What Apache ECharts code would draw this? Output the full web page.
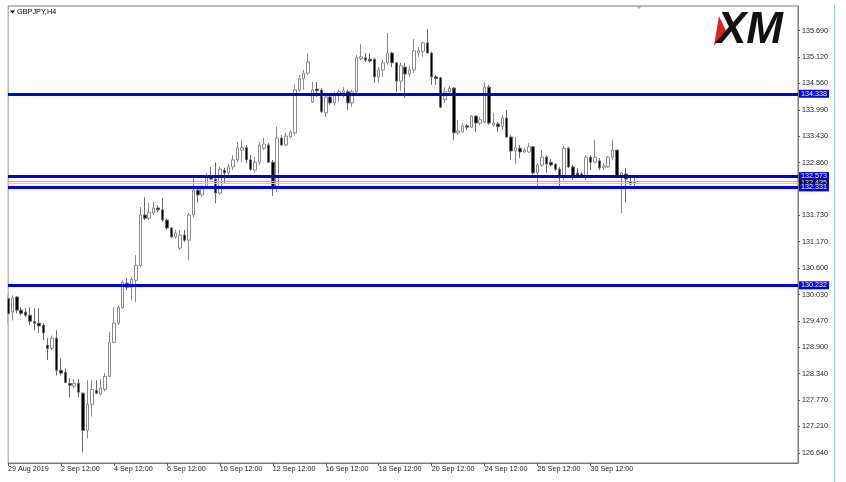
<!DOCTYPE html>
<html><head><meta charset="utf-8">
<script src="https://cdn.jsdelivr.net/npm/echarts/dist/echarts.min.js"></script>
<style>html,body{margin:0;padding:0;background:#fff}#c{width:846px;height:482px}</style>
</head><body><div id="c"></div>
<script>
// ---- data ----
const symbolTitle = 'GBPJPY,H4';
const tradingDays = ['29 Aug','30 Aug','2 Sep','3 Sep','4 Sep','5 Sep','6 Sep','9 Sep','10 Sep','11 Sep','12 Sep','13 Sep','16 Sep','17 Sep','18 Sep','19 Sep','20 Sep','23 Sep','24 Sep','25 Sep','26 Sep','27 Sep','30 Sep','1 Oct','2 Oct'];
const hours = ['00:00','04:00','08:00','12:00','16:00','20:00'];
const xTickLabels = ['29 Aug 2019','2 Sep 12:00','4 Sep 12:00','6 Sep 12:00','10 Sep 12:00','12 Sep 12:00','16 Sep 12:00','18 Sep 12:00','20 Sep 12:00','24 Sep 12:00','26 Sep 12:00','30 Sep 12:00'];
const yTickValues = [126.64,127.21,127.77,128.34,128.90,129.47,130.03,130.60,131.17,131.73,132.86,133.43,133.99,134.56,135.12,135.69];
const levelLines = [134.338, 132.573, 132.331, 130.232];
const askLine = 132.468;
const bidLine = 132.425;

const opens = [129.95,129.66,129.98,129.70,129.66,129.59,129.46,129.42,129.38,128.95,
128.88,129.10,128.41,128.37,128.13,128.07,128.13,127.92,127.12,127.68,
127.98,127.90,128.00,128.28,129.01,129.42,129.75,130.28,130.19,130.34,
130.66,131.74,131.67,131.78,131.89,131.85,131.63,131.46,131.27,131.03,
131.31,131.20,131.74,132.27,132.17,132.34,132.55,132.51,132.21,132.70,
132.64,132.77,132.92,133.13,133.18,132.92,132.70,132.87,133.17,133.24,
132.87,132.34,133.39,133.24,133.41,133.50,134.42,134.66,134.78,134.16,
134.44,134.42,133.93,134.27,134.14,134.33,134.36,134.38,134.14,134.38,
135.09,135.11,135.08,135.08,134.70,134.85,135.00,135.21,135.00,134.61,
134.91,134.76,134.85,135.21,135.24,135.43,135.21,134.70,134.68,134.21,
134.38,134.46,133.50,133.52,133.65,133.62,133.86,133.71,133.73,134.48,
133.67,133.69,133.63,133.82,133.41,133.11,133.17,133.09,133.09,133.20,
132.64,132.81,132.98,132.87,132.83,132.72,132.57,133.17,132.77,132.64,
132.62,132.57,132.98,132.87,132.90,132.75,132.77,132.98,133.13,132.57,
132.62,132.45,132.43];
const highs = [130.02,130.02,130.00,129.76,129.74,129.76,129.74,129.74,129.42,129.10,
129.16,129.27,128.67,128.45,128.24,128.22,128.22,127.94,128.20,128.20,
128.20,128.22,128.35,129.23,129.76,129.81,130.34,130.39,130.41,130.88,
131.91,132.12,132.00,132.02,131.95,132.10,131.67,131.48,131.42,131.42,
131.42,131.78,132.55,132.32,132.38,132.64,132.77,132.87,132.77,132.75,
132.83,133.02,133.30,133.35,133.24,133.02,132.98,133.30,133.39,133.28,
132.92,133.63,133.45,133.50,133.56,134.53,134.74,134.85,135.21,134.59,
134.59,134.46,134.31,134.29,134.38,134.42,134.48,134.42,134.42,135.17,
135.41,135.21,135.21,135.11,134.91,135.06,135.64,135.24,135.02,135.00,
135.00,134.94,135.51,135.34,135.45,135.73,135.24,134.74,134.70,134.48,
134.51,134.48,133.78,133.71,133.69,133.88,133.88,133.84,134.59,134.53,
133.93,133.73,133.88,133.99,133.45,133.41,133.24,133.18,133.28,133.22,
132.85,133.13,133.02,132.94,132.85,132.77,133.22,133.20,132.81,132.75,
132.66,133.02,133.02,133.35,132.96,132.85,133.00,133.35,133.13,132.66,
132.75,132.53,132.55];
const lows = [129.40,129.48,129.63,129.59,129.55,129.38,129.27,129.21,129.06,128.63,
128.84,128.30,128.30,128.13,127.83,128.03,127.83,126.65,126.95,127.42,
127.90,127.87,127.96,128.26,128.99,129.38,129.73,130.13,129.91,129.87,
130.62,131.63,131.63,131.74,131.80,131.59,131.42,131.24,131.24,130.99,
131.16,130.77,131.69,132.00,132.12,132.32,132.49,131.99,132.17,132.42,
132.55,132.70,132.87,132.87,132.85,132.68,132.64,132.81,133.13,132.85,
132.15,132.23,133.22,133.22,133.39,133.45,134.38,134.42,134.74,134.14,
134.27,133.93,133.84,134.10,134.08,134.16,134.25,133.99,134.06,134.36,
135.06,135.02,135.00,134.57,134.57,134.70,134.96,134.91,134.38,134.40,
134.25,134.70,134.78,135.13,135.13,135.21,134.53,134.53,134.03,134.14,
134.33,133.35,133.45,133.50,133.56,133.60,133.52,133.67,133.71,133.67,
133.63,133.52,133.56,133.39,132.92,132.83,132.96,133.07,133.07,132.60,
132.34,132.77,132.64,132.77,132.68,132.32,132.49,132.75,132.49,132.55,
132.55,132.49,132.70,132.85,132.70,132.70,132.75,132.92,132.53,131.78,
132.00,132.38,132.36];
const closes = [129.62,129.96,129.70,129.63,129.59,129.46,129.42,129.36,129.21,128.88,
129.10,128.41,128.35,128.15,128.09,128.13,127.94,127.12,127.68,128.00,
127.92,128.03,128.28,129.01,129.42,129.76,130.30,130.19,130.36,130.66,
131.74,131.67,131.80,131.89,131.85,131.63,131.46,131.27,131.35,131.31,
131.20,131.74,132.27,132.17,132.32,132.55,132.51,132.21,132.72,132.64,
132.77,132.92,133.18,133.18,132.92,132.72,132.87,133.24,133.26,132.87,
132.34,133.39,133.24,133.43,133.52,134.42,134.66,134.78,135.02,134.42,
134.40,133.95,134.27,134.14,134.33,134.38,134.40,134.14,134.38,135.11,
135.13,135.06,135.04,134.70,134.85,135.00,135.21,135.00,134.61,134.94,
134.76,134.85,135.26,135.26,135.43,135.21,134.70,134.66,134.05,134.38,
134.46,133.50,133.54,133.65,133.62,133.86,133.71,133.78,134.48,133.71,
133.71,133.63,133.82,133.41,133.11,133.18,133.09,133.13,133.20,132.64,
132.81,132.98,132.83,132.81,132.72,132.57,133.17,132.77,132.57,132.57,
132.57,132.98,132.87,132.98,132.75,132.79,132.98,133.13,132.57,132.64,
132.51,132.40,132.425];

// ---- build ----
const TOTAL_SLOTS = 180;
const categories = [];
tradingDays.forEach(d => hours.forEach(h => categories.push(d + ' ' + h)));
const startSlot = 3; // 29 Aug 12:00
const shown = categories.slice(startSlot, startSlot + opens.length);
while (shown.length < TOTAL_SLOTS) shown.push('');
const candleData = opens.map((o, i) => [o, closes[i], lows[i], highs[i]]);
const isLabelIdx = i => i % 12 === 0 && i / 12 < xTickLabels.length;

const FONT = 'Liberation Sans';
const priceLabel = (v, bg) => ({show: true, position: 'end', distance: 1, formatter: v.toFixed(3),
  color: '#fff', backgroundColor: bg, padding: [1, 2, 0, 2], fontFamily: FONT, fontSize: 7.2});

const chart = echarts.init(document.getElementById('c'), null, {renderer: 'canvas'});
chart.setOption({
  animation: false,
  backgroundColor: '#ffffff',
  grid: {left: 8, right: 48, top: 6, bottom: 19, show: true, borderColor: '#7a7a7a', borderWidth: 1, backgroundColor: '#ffffff'},
  xAxis: {
    type: 'category', data: shown, boundaryGap: false,
    axisLine: {lineStyle: {color: '#7a7a7a', width: 1}},
    axisTick: {show: true, length: 3, interval: (i) => isLabelIdx(i), lineStyle: {color: '#555'}},
    axisLabel: {interval: (i) => isLabelIdx(i), formatter: (v, i) => isLabelIdx(i) ? xTickLabels[i / 12] : '',
      align: 'left', margin: 3, fontFamily: FONT, fontSize: 7.2, color: '#222'},
    splitLine: {show: false}
  },
  yAxis: {
    type: 'value', position: 'right', min: 126.423, max: 136.219, scale: true,
    axisLine: {show: true, lineStyle: {color: '#7a7a7a', width: 1}},
    axisTick: {show: true, length: 2, customValues: yTickValues, lineStyle: {color: '#555'}},
    axisLabel: {customValues: yTickValues, formatter: v => v.toFixed(3), margin: 4,
      fontFamily: FONT, fontSize: 7.2, color: '#222', showMinLabel: true, showMaxLabel: true},
    splitLine: {show: false}
  },
  graphic: [
    {type: 'rect', shape: {x: 0, y: 6, width: 7.5, height: 458}, style: {fill: '#ffffff'}, z: 100},
    {type: 'polygon', shape: {points: [[10, 10.5], [15, 10.5], [12.5, 13.5]]}, style: {fill: '#000'}},
    {type: 'text', left: 17, top: 8, style: {text: symbolTitle, font: '7.3px "Liberation Sans"', fill: '#000'}},
    {type: 'polygon', shape: {points: [[636, 6], [642, 6], [639, 9]]}, style: {fill: '#b0b0b0'}},
    {type: 'rect', shape: {x: 834, y: 5, width: 1, height: 477}, style: {fill: '#9cc3e6'}},
    {type: 'polygon', shape: {points: [[719, 16], [726, 31], [714, 46]]}, style: {fill: '#e0202a'}},
    {type: 'text', x: 717, y: 9, style: {text: 'XM', font: 'italic 900 44px "Liberation Sans"', fill: '#111'}}
  ],
  series: [{
    type: 'candlestick', data: candleData, barWidth: 3, clip: true,
    itemStyle: {color: '#ffffff', color0: '#000000', borderColor: '#8a8a8a', borderColor0: '#6a6a6a', borderWidth: 1},
    markLine: {
      silent: true, symbol: 'none', animation: false, precision: 3,
      data: [
        {yAxis: askLine, lineStyle: {color: '#ee9a78', width: 1, type: 'solid'}, label: {show: false}},
        {yAxis: bidLine, lineStyle: {color: '#d8c8c0', width: 1, type: 'solid'}, label: priceLabel(bidLine, '#000')}
      ].concat(levelLines.map(v => ({yAxis: v, lineStyle: {color: '#0000f0', width: 3, type: 'solid'}, label: priceLabel(v, '#0000f0')})))
    }
  }]
});
</script></body></html>
